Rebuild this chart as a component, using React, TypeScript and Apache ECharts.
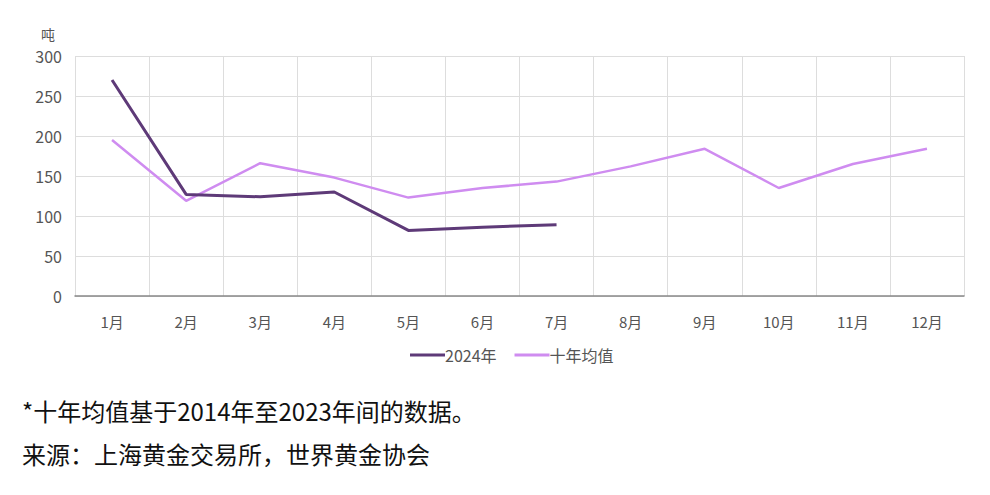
import React, { useEffect, useRef } from "react";
import * as echarts from "echarts";

const months = ["1月", "2月", "3月", "4月", "5月", "6月", "7月", "8月", "9月", "10月", "11月", "12月"];
const values2024 = [270, 127, 124, 130, 82, 86, 89];
const tenYearAvg = [195, 119, 166, 148, 123, 135, 143, 162, 184, 135, 165, 184];
const seriesNames = ["2024年", "十年均值"];
const footnote1 = "*十年均值基于2014年至2023年间的数据。";
const footnote2 = "来源：上海黄金交易所，世界黄金协会";

const FONT = '"Noto Sans CJK SC", "Noto Sans", sans-serif';

export default function App() {
  const ref = useRef<HTMLDivElement>(null);
  useEffect(() => {
    document.body.style.margin = "0";
    const chart = echarts.init(ref.current!, undefined, { renderer: "svg" });
    chart.setOption({
      animation: false,
      backgroundColor: "#ffffff",
      textStyle: { fontFamily: FONT },
      grid: { left: 75, right: 26, top: 56, bottom: 199 },
      legend: {
        data: seriesNames,
        top: 342,
        left: 405,
        itemGap: 18,
        itemWidth: 35,
        itemHeight: 3,
        icon: "rect",
        textStyle: { color: "#555", fontSize: 16, fontFamily: FONT, padding: [0, 0, 0, -5] },
      },
      xAxis: {
        type: "category",
        data: months,
        boundaryGap: true,
        axisLine: { lineStyle: { color: "#888", width: 1.5 } },
        axisTick: { show: false },
        axisLabel: { color: "#555", fontSize: 15, margin: 18 },
        splitLine: { show: true, lineStyle: { color: "#ddd", width: 1 } },
      },
      yAxis: {
        type: "value",
        min: 0,
        max: 300,
        interval: 50,
        name: "吨",
        nameTextStyle: { color: "#555", fontSize: 14, align: "right", padding: [0, 20, 0, 0] },
        nameGap: 15,
        axisLine: { show: false },
        axisTick: { show: false },
        axisLabel: { color: "#555", fontSize: 16, margin: 13 },
        splitLine: { lineStyle: { color: "#ddd", width: 1 } },
      },
      series: [
        {
          name: seriesNames[0],
          type: "line",
          data: values2024,
          showSymbol: false,
          symbol: "none",
          lineStyle: { color: "#5e3a78", width: 3 },
          itemStyle: { color: "#5e3a78" },
          z: 3,
        },
        {
          name: seriesNames[1],
          type: "line",
          data: tenYearAvg,
          showSymbol: false,
          symbol: "none",
          lineStyle: { color: "#cf8cf0", width: 2.5 },
          itemStyle: { color: "#cf8cf0" },
          z: 2,
        },
      ],
      graphic: [
        {
          type: "text",
          left: 22,
          top: 398,
          style: { text: footnote1, fill: "#111", font: `24px ${FONT}` },
        },
        {
          type: "text",
          left: 22,
          top: 441,
          style: { text: footnote2, fill: "#111", font: `24px ${FONT}` },
        },
      ],
    });
    return () => chart.dispose();
  }, []);
  return <div ref={ref} style={{ width: 990, height: 495 }} />;
}
